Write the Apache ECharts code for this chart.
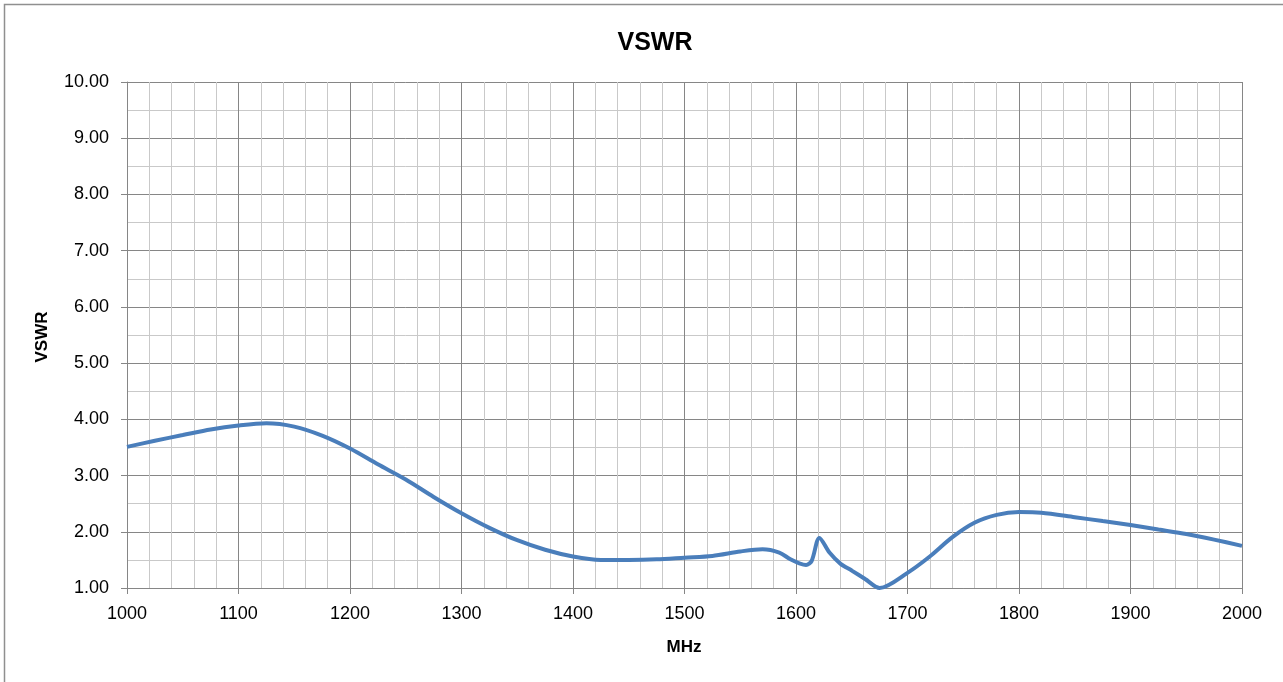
<!DOCTYPE html>
<html>
<head>
<meta charset="utf-8">
<title>VSWR</title>
<script src="https://cdn.jsdelivr.net/npm/echarts@6/dist/echarts.min.js"></script>
<style>
  html, body { margin: 0; padding: 0; background: #fff; }
  #chart { width: 1283px; height: 682px; }
</style>
</head>
<body>
<div id="chart"></div>
<script>
// VSWR 曲线

// 频率 (MHz)
const freq = [1000, 1025, 1050, 1075, 1100, 1125, 1150, 1175, 1200, 1225, 1250, 1275,
    1300, 1325, 1350, 1375, 1400, 1425, 1450, 1475, 1500, 1525, 1550, 1570, 1585,
    1595, 1603, 1609, 1614, 1621, 1630, 1640, 1650, 1662, 1675, 1700, 1720, 1740,
    1760, 1780, 1800, 1820, 1850, 1875, 1900, 1925, 1950, 1975, 2000];

// VSWR 读数
const vswr = [3.51, 3.62, 3.72, 3.82, 3.89, 3.93, 3.87, 3.71, 3.48, 3.20, 2.93, 2.62,
    2.33, 2.07, 1.85, 1.68, 1.56, 1.50, 1.50, 1.51, 1.54, 1.57, 1.65, 1.69, 1.63,
    1.51, 1.44, 1.41, 1.48, 1.89, 1.63, 1.43, 1.31, 1.16, 1.00, 1.27, 1.56, 1.90,
    2.16, 2.30, 2.35, 2.34, 2.26, 2.19, 2.12, 2.04, 1.96, 1.86, 1.75];

const titleText = 'VSWR';
const xName = 'MHz';
const yName = 'VSWR';

const majorColor = '#868686';
const minorColor = '#c9c9c9';
const font = 'Liberation Sans';

let points = freq.map((f, i) => [f, vswr[i]]);

let option = {
    animation: false,
    backgroundColor: '#fff',
    grid: {
        left: 127,
        right: 41,
        top: 82,
        bottom: 94
    },
    xAxis: {
        type: 'value',
        min: 1000,
        max: 2000,
        interval: 100,
        axisLine: { show: true, lineStyle: { color: majorColor, width: 1 } },
        axisTick: { show: true, length: 6, lineStyle: { color: majorColor } },
        axisLabel: {
            color: '#000', fontFamily: font, fontSize: 18, margin: 17,
            formatter: v => String(v)
        },
        splitLine: { show: true, lineStyle: { color: majorColor, width: 1 } },
        minorTick: { show: false, splitNumber: 5 },
        minorSplitLine: { show: true, lineStyle: { color: minorColor, width: 1 } }
    },
    yAxis: {
        type: 'value',
        min: 1,
        max: 10,
        interval: 1,
        axisLine: { show: true, lineStyle: { color: majorColor, width: 1 } },
        axisTick: { show: true, length: 6, lineStyle: { color: majorColor } },
        axisLabel: {
            color: '#000', fontFamily: font, fontSize: 18, margin: 18,
            formatter: v => v.toFixed(2)
        },
        splitLine: { show: true, lineStyle: { color: majorColor, width: 1 } },
        minorTick: { show: false, splitNumber: 2 },
        minorSplitLine: { show: true, lineStyle: { color: minorColor, width: 1 } }
    },
    graphic: [
        {
            type: 'rect',
            silent: true,
            shape: { x: 4.5, y: 4.5, width: 1300, height: 700 },
            style: { fill: 'none', stroke: '#8f8f8f', lineWidth: 1.5 }
        },
        {
            type: 'text',
            x: 655, y: 43,
            style: {
                text: titleText, align: 'center', verticalAlign: 'middle',
                fontFamily: font, fontWeight: 'bold', fontSize: 25, fill: '#000'
            }
        },
        {
            type: 'text',
            x: 684, y: 647,
            style: {
                text: xName, align: 'center', verticalAlign: 'middle',
                fontFamily: font, fontWeight: 'bold', fontSize: 17, fill: '#000'
            }
        },
        {
            type: 'text',
            x: 42, y: 337,
            rotation: Math.PI / 2,
            style: {
                text: yName, align: 'center', verticalAlign: 'middle',
                fontFamily: font, fontWeight: 'bold', fontSize: 17, fill: '#000'
            }
        }
    ],
    series: [{
        type: 'line',
        data: points,
        smooth: 0.3,
        showSymbol: false,
        lineStyle: { color: '#4a7ebb', width: 4 },
        itemStyle: { color: '#4a7ebb' }
    }]
};

window.echarts.init(document.getElementById('chart')).setOption(option);
</script>
</body>
</html>
